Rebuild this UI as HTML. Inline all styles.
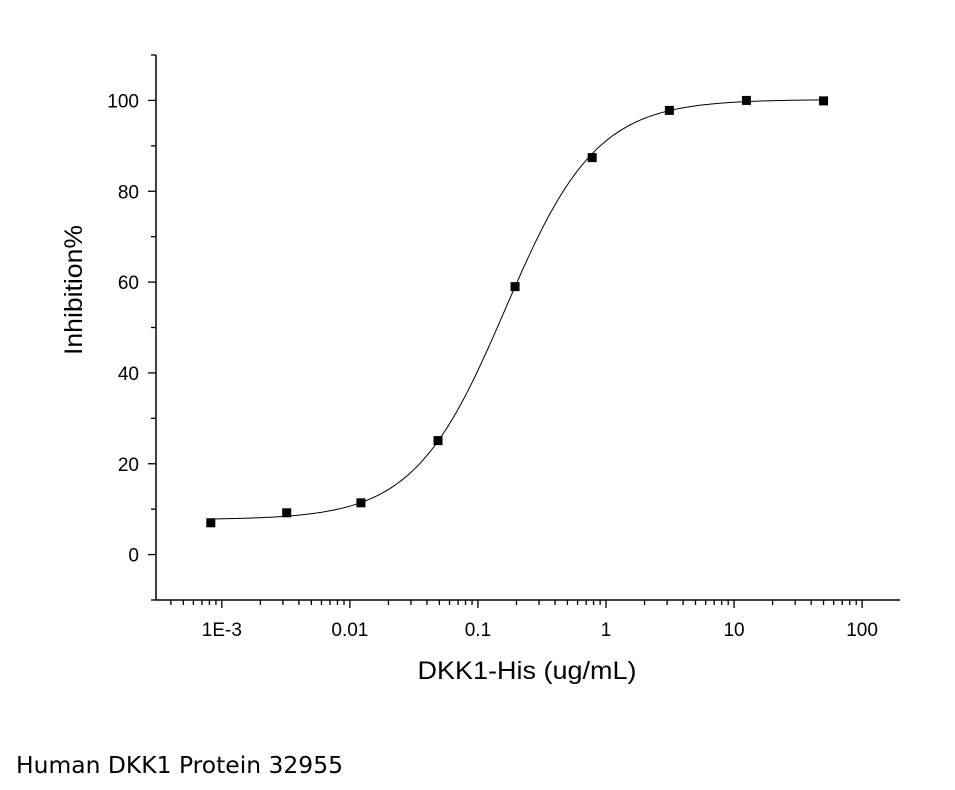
<!DOCTYPE html>
<html><head><meta charset="utf-8"><style>
body{margin:0;background:#fff;}
svg{display:block;font-family:"Liberation Sans",Arial,sans-serif;}
</style></head><body>
<svg id="chart" width="955" height="790">
<g id="axes"></g><path id="curve" fill="none" stroke="#000" stroke-width="1"></path><g id="pts"></g>
<text x="527" y="679" font-size="25" text-anchor="middle" textLength="219" lengthAdjust="spacingAndGlyphs">DKK1-His (ug/mL)</text>
<text transform="translate(82,290) rotate(-90)" font-size="25" text-anchor="middle" textLength="130" lengthAdjust="spacingAndGlyphs">Inhibition%</text>
<text x="16" y="773" font-size="23" font-family="'DejaVu Sans',sans-serif" textLength="327" lengthAdjust="spacingAndGlyphs">Human DKK1 Protein 32955</text>
</svg>
<script>
const doses=[0.00082,0.00321,0.0122,0.0488,0.195,0.78,3.125,12.5,50];
const inhibition=[7.0,9.2,11.4,25.1,59.0,87.4,97.8,100.0,99.9];
const fitParams=[7.7,100.2,0.163,1.22]; // bottom, top, EC50, hill
const xTickVals=[0.001,0.01,0.1,1,10,100];
const xTickLabels=["1E-3","0.01","0.1","1","10","100"];
const yTickVals=[0,20,40,60,80,100];
const NS="http://www.w3.org/2000/svg";
const L=156,R=900,T=55,B=600;
const xMin=-3.514,xMax=2.296,yMin=-10,yMax=110;
const xs=v=>L+(Math.log10(v)-xMin)/(xMax-xMin)*(R-L);
const ys=v=>B-(v-yMin)/(yMax-yMin)*(B-T);
function mk(tag,attrs,parent){const e=document.createElementNS(NS,tag);for(const k in attrs)e.setAttribute(k,attrs[k]);parent.appendChild(e);return e;}
const ax=document.getElementById('axes');
let a=mk('line',{x1:L,y1:B,x2:R,y2:B,stroke:'#000','stroke-width':1.5},ax);


a=mk('line',{x1:L,y1:T,x2:L,y2:B,stroke:'#000','stroke-width':1.5},ax);


for(let d=-4;d<=2;d++){for(let m=1;m<10;m++){const v=m*Math.pow(10,d);const lv=Math.log10(v);if(lv<xMin||lv>xMax)continue;const x=xs(v);
 const t=mk('line',{x1:x,y1:B,x2:x,y2:B+(m==1?8:5),stroke:'#000','stroke-width':1.3},ax);
 
 }}
xTickVals.forEach((v,i)=>{const t=mk('text',{x:xs(v),y:636,'font-size':19,'text-anchor':'middle'},ax);t.textContent=xTickLabels[i];
 
 });
for(let v=-10;v<=110;v+=10){const y=ys(v);const major=v%20===0&&v>=0&&v<=100;
 const t=mk('line',{x1:L-(major?8:5),y1:y,x2:L,y2:y,stroke:'#000','stroke-width':1.3},ax);
 
 }
yTickVals.forEach(v=>{const t=mk('text',{x:139,y:ys(v)+7,'font-size':19,'text-anchor':'end'},ax);t.textContent=v;
 
 });
const [b0,t0,ec,h]=fitParams;let d='';
for(let i=0;i<=300;i++){const lv=Math.log10(doses[0])+i/300*(Math.log10(doses[doses.length-1])-Math.log10(doses[0]));const v=Math.pow(10,lv);
 const y=b0+(t0-b0)/(1+Math.pow(ec/v,h));d+=(i?'L':'M')+xs(v).toFixed(2)+','+ys(y).toFixed(2);}
document.getElementById('curve').setAttribute('d',d);
const pg=document.getElementById('pts');
doses.forEach((v,i)=>{const r=mk('rect',{x:xs(v)-4.5,y:ys(inhibition[i])-4.5,width:9,height:9,fill:'#000'},pg);
 
 });
</script>
</body></html>
